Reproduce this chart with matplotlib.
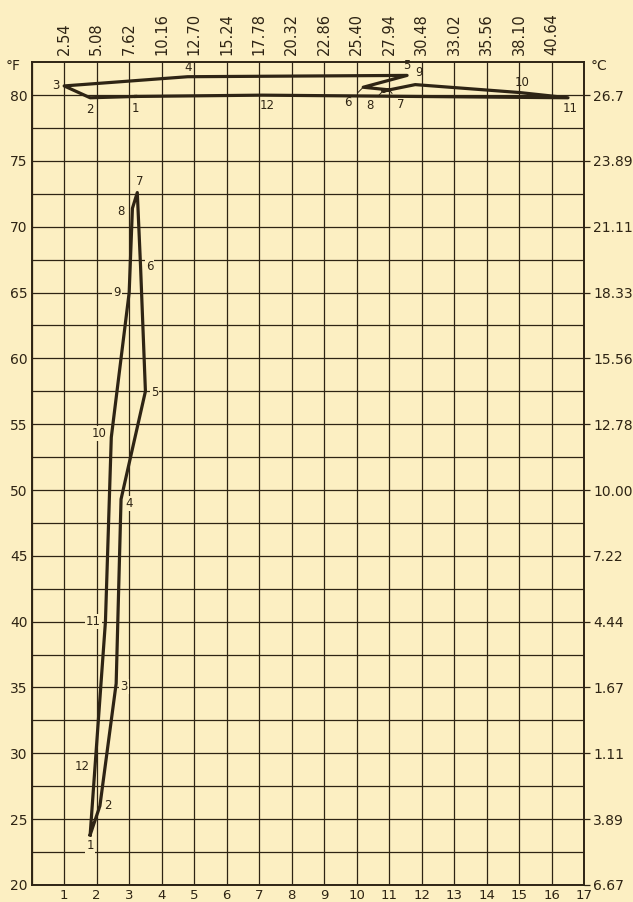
import numpy as np
import matplotlib.pyplot as plt

# climograph: monthly precipitation (inches) vs mean temperature (deg F)
months = ['1', '2', '3', '4', '5', '6', '7', '8', '9', '10', '11', '12']

# temperate station (lower loop)
low_precip = [1.80, 2.10, 2.60, 2.75, 3.50, 3.35, 3.25, 3.10, 3.00, 2.45, 2.27, 1.95]
low_temp = [23.8, 26.0, 35.3, 49.3, 57.5, 67.0, 72.6, 71.4, 65.0, 54.0, 40.0, 29.0]

# tropical station (upper loop)
high_precip = [3.20, 1.80, 1.00, 4.80, 11.55, 10.20, 11.00, 10.80, 11.80, 15.00, 16.50, 7.10]
high_temp = [79.9, 79.8, 80.7, 81.4, 81.5, 80.6, 80.4, 80.3, 80.8, 80.2, 79.8, 80.0]

f_ticks = [20, 25, 30, 35, 40, 45, 50, 55, 60, 65, 70, 75, 80]
c_labels = ['6.67', '3.89', '1.11', '1.67', '4.44', '7.22', '10.00',
            '12.78', '15.56', '18.33', '21.11', '23.89', '26.7']
in_ticks = list(range(1, 18))
cm_ticks = list(range(1, 17))
cm_labels = ['2.54', '5.08', '7.62', '10.16', '12.70', '15.24', '17.78', '20.32',
             '22.86', '25.40', '27.94', '30.48', '33.02', '35.56', '38.10', '40.64']

# label offsets in pixels (layout only)
low_off = [(0, -11), (8, 0), (8, -3), (8, -4), (9, -1), (9, 0),
           (2, 11), (-11, -3), (-12, 0), (-12, 4), (-12, 0), (-13, 0)]
high_off = [(0, -12), (0, -12), (-8, 0), (0, 9), (0, 10), (-15, -15),
            (12, -15), (-13, -14), (4, 12), (3, 10), (2, -11), (5, -10)]
leader = [False] * 5 + [True, True, True] + [False] * 4

bg = '#fcefc2'
ink = '#2e2414'
plt.rcParams['font.family'] = 'DejaVu Sans'

fig = plt.figure(figsize=(6.33, 9.02), dpi=100, facecolor=bg)
ax = fig.add_axes([0.050, 0.019, 0.873, 0.912])
ax.set_facecolor(bg)
ax.set_xlim(0, 17)
ax.set_ylim(20, 82.5)

ax.set_xticks(in_ticks)
ax.set_xticklabels([str(t) for t in in_ticks], fontsize=9.5, color=ink)
ax.set_xticks(range(0, 17), minor=True)
ax.set_yticks(f_ticks)
ax.set_yticklabels([str(t) for t in f_ticks], fontsize=10, color=ink)
ax.set_yticks(np.arange(22.5, 82.5, 2.5), minor=True)
ax.tick_params(which='both', length=0, pad=3)
ax.grid(which='both', color=ink, linewidth=0.9)
for s in ax.spines.values():
    s.set_color(ink)
    s.set_linewidth(1.4)

ax2 = ax.twinx()
ax2.set_ylim(20, 82.5)
ax2.set_yticks(f_ticks)
ax2.set_yticklabels(c_labels, fontsize=10, color=ink)
ax2.tick_params(length=4, width=0.9, color=ink, pad=2.5)
for s in ax2.spines.values():
    s.set_visible(False)

top = ax.secondary_xaxis('top')
top.set_xticks(cm_ticks)
top.set_xticklabels(cm_labels, rotation=90, fontsize=10.5, color=ink)
top.tick_params(length=0, pad=5)
top.spines['top'].set_visible(False)

ax.text(-0.02, 0.995, '°F', transform=ax.transAxes, ha='right', va='center',
        fontsize=10, color=ink)
ax.text(1.012, 0.995, '°C', transform=ax.transAxes, ha='left', va='center',
        fontsize=10, color=ink)

lx = np.append(low_precip, low_precip[0])
ly = np.append(low_temp, low_temp[0])
ax.plot(lx, ly, color=ink, linewidth=2.3, solid_joinstyle='round', zorder=3)
hx = np.append(high_precip, high_precip[0])
hy = np.append(high_temp, high_temp[0])
ax.plot(hx, hy, color=ink, linewidth=2.3, solid_joinstyle='round', zorder=3)

box = dict(boxstyle='square,pad=0.1', facecolor=bg, edgecolor='none')
for m, x, y, off in zip(months, low_precip, low_temp, low_off):
    ax.annotate(m, (x, y), xytext=off, textcoords='offset pixels',
                ha='center', va='center', fontsize=8.5, color=ink, bbox=box, zorder=4)
for m, x, y, off, ld in zip(months, high_precip, high_temp, high_off, leader):
    arrow = dict(arrowstyle='-', color=ink, linewidth=0.7, shrinkA=3, shrinkB=0) if ld else None
    ax.annotate(m, (x, y), xytext=off, textcoords='offset pixels',
                ha='center', va='center', fontsize=8.5, color=ink,
                arrowprops=arrow, zorder=4)

fig.savefig('out.png', dpi=100, facecolor=bg)
